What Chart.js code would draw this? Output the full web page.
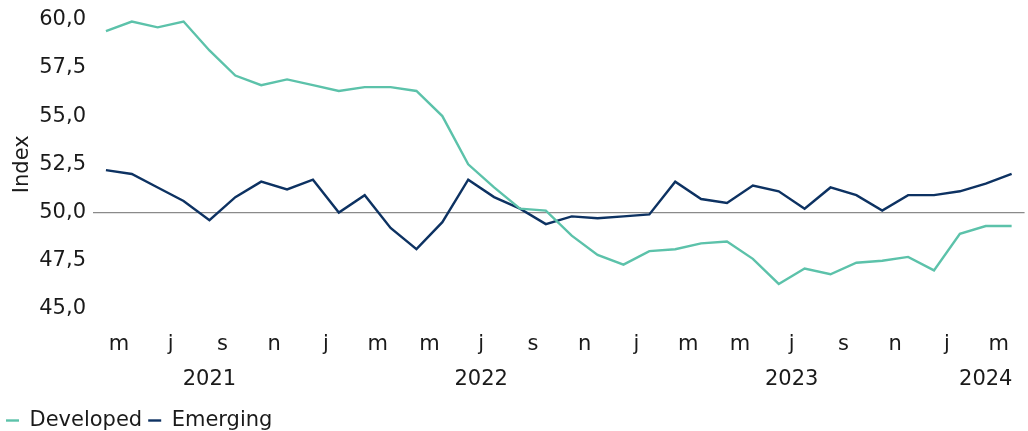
<!DOCTYPE html>
<html>
<head>
<meta charset="utf-8">
<script src="https://cdn.jsdelivr.net/npm/chart.js@4.4.1/dist/chart.umd.min.js"></script>
<style>
  html, body { margin: 0; padding: 0; background: #ffffff; }
  #wrap { width: 1028px; height: 431px; }
</style>
</head>
<body>
<div id="wrap"><canvas id="c" width="1028" height="431"></canvas></div>
<script>
// Monthly categories, April 2021 – March 2024
const categories = [
  '2021-04','2021-05','2021-06','2021-07','2021-08','2021-09','2021-10','2021-11','2021-12',
  '2022-01','2022-02','2022-03','2022-04','2022-05','2022-06','2022-07','2022-08','2022-09','2022-10','2022-11','2022-12',
  '2023-01','2023-02','2023-03','2023-04','2023-05','2023-06','2023-07','2023-08','2023-09','2023-10','2023-11','2023-12',
  '2024-01','2024-02','2024-03'
];

const developed = [
  59.4, 59.9, 59.6, 59.9, 58.4, 57.1, 56.6, 56.9, 56.6,
  56.3, 56.5, 56.5, 56.3, 55.0, 52.5, 51.3, 50.2, 50.1, 48.8, 47.8, 47.3,
  48.0, 48.1, 48.4, 48.5, 47.6, 46.3, 47.1, 46.8, 47.4, 47.5, 47.7, 47.0,
  48.9, 49.3, 49.3
];

const emerging = [
  52.2, 52.0, 51.3, 50.6, 49.6, 50.8, 51.6, 51.2, 51.7,
  50.0, 50.9, 49.2, 48.1, 49.5, 51.7, 50.8, 50.2, 49.4, 49.8, 49.7, 49.8,
  49.9, 51.6, 50.7, 50.5, 51.4, 51.1, 50.2, 51.3, 50.9, 50.1, 50.9, 50.9,
  51.1, 51.5, 52.0
];

// Tick labels: one per two months (placed between each pair of months)
const monthTickLabels = ['m','j','s','n','j','m','m','j','s','n','j','m','m','j','s','n','j','m'];
const yearLabels = ['2021','2022','2023','2024'];
const yTicks = [45, 47.5, 50, 52.5, 55, 57.5, 60];

const FONT = "'DejaVu Sans', sans-serif";
const TXT = '#1a1a1a';

const toPoints = arr => arr.map((v, i) => ({ x: i, y: v }));

// year centre positions (in category index units) derived from categories
const yearCenters = yearLabels.map(y => {
  const idx = categories.map((c, i) => c.startsWith(y) ? i : -1).filter(i => i >= 0);
  return (idx[0] + idx[idx.length - 1]) / 2;
});

new Chart(document.getElementById('c'), {
  type: 'line',
  data: {
    datasets: [
      { label: 'Developed', data: toPoints(developed), borderColor: '#5cc2aa', backgroundColor: '#5cc2aa',
        borderWidth: 2.4, pointRadius: 0, tension: 0, xAxisID: 'x', yAxisID: 'y' },
      { label: 'Emerging', data: toPoints(emerging), borderColor: '#0d3262', backgroundColor: '#0d3262',
        borderWidth: 2.4, pointRadius: 0, tension: 0, xAxisID: 'x', yAxisID: 'y' }
    ]
  },
  options: {
    responsive: false,
    animation: false,
    layout: { padding: { top: 19, right: 3, left: 0, bottom: -10 } },
    plugins: {
      tooltip: { enabled: false },
      legend: {
        position: 'bottom',
        align: 'start',
        labels: {
          usePointStyle: true,
          pointStyle: 'line',
          pointStyleWidth: 13,
          boxHeight: 2,
          padding: 6,
          color: TXT,
          font: { family: FONT, size: 21, lineHeight: 1 }
        }
      }
    },
    scales: {
      x: {
        type: 'linear',
        position: 'bottom',
        min: -0.5,
        max: categories.length - 0.5,
        grid: { display: false, drawTicks: false },
        border: { display: false },
        afterBuildTicks: s => { s.ticks = monthTickLabels.map((_, i) => ({ value: 2 * i + 0.5 })); },
        afterFit: s => { s.height = 50; },
        ticks: {
          autoSkip: false, maxRotation: 0, padding: 19,
          color: TXT, font: { family: FONT, size: 21, lineHeight: 1.58 },
          callback: (v, i) => monthTickLabels[i]
        }
      },
      x2: {
        type: 'linear',
        position: 'bottom',
        min: -0.5,
        max: categories.length - 0.5,
        grid: { display: false, drawTicks: false },
        border: { display: false },
        afterBuildTicks: s => { s.ticks = yearCenters.map(v => ({ value: v })); },
        afterFit: s => { s.height = 45; },
        ticks: {
          autoSkip: false, maxRotation: 0, padding: 8,
          color: TXT, font: { family: FONT, size: 21 },
          callback: (v, i) => yearLabels[i]
        }
      },
      y: {
        type: 'linear',
        min: 45, max: 60,
        afterBuildTicks: s => { s.ticks = yTicks.map(v => ({ value: v })); },
        afterFit: s => { s.width = 93; },
        border: { display: false },
        grid: {
          drawTicks: false,
          color: ctx => (ctx.tick && ctx.tick.value === 50) ? '#8a8a8a' : 'rgba(0,0,0,0)',
          lineWidth: 1.2
        },
        title: { display: true, text: 'Index', color: TXT, font: { family: FONT, size: 21 }, padding: { top: 10, bottom: 0 } },
        ticks: {
          padding: 7, color: TXT, font: { family: FONT, size: 21 },
          callback: v => v.toFixed(1).replace('.', ',')
        }
      }
    }
  }
});
</script>
</body>
</html>
